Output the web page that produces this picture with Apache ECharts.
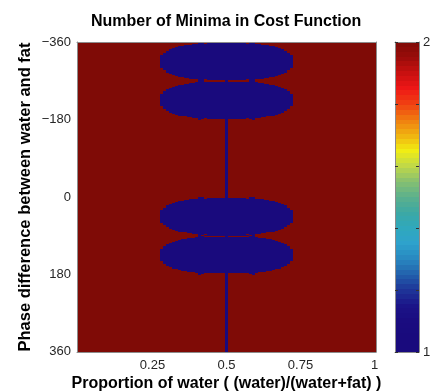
<!DOCTYPE html>
<html>
<head>
<meta charset="utf-8">
<script src="https://cdn.jsdelivr.net/npm/echarts@6/dist/echarts.min.js"></script>
<style>
html,body{margin:0;padding:0;background:#fff;}
#chart{width:430px;height:392px;}
</style>
</head>
<body>
<div id="chart"></div>
<script>
// ---- data ----
const titleText = 'Number of Minima in Cost Function';
const xName = 'Proportion of water ( (water)/(water+fat) )';
const yName = 'Phase difference between water and fat';
const xTickLabels = ['0.25', '0.5', '0.75', '1'];
const yTickLabels = [-360, -180, 0, 180, 360];
const colorbarTicks = [1, 2];
// grid of the image: water proportion 0..1 (step 0.01), phase -360..360 (step 1)
const xStart = 0, xEnd = 1, xStep = 0.01;
const phaseStart = -360, phaseEnd = 360, phaseStep = 1;
// blobs (value 1): centres in phase, and half-height (deg) for each water column
const blobCenters = [-315, -225, 45, 135];
const blobColumnX = [0.28,0.29,0.30,0.31,0.32,0.33,0.34,0.35,0.36,0.37,0.38,0.39,0.40,0.41,0.42,0.43,0.44,0.45,0.46,0.47,0.48,0.49,0.50,
                     0.51,0.52,0.53,0.54,0.55,0.56,0.57,0.58,0.59,0.60,0.61,0.62,0.63,0.64,0.65,0.66,0.67,0.68,0.69,0.70,0.71,0.72];
const blobHalfHeight = [14,20,25,28,31,33,35,36,37,38,39,40,41,45,44,41,42,42,42,42,42,42,42,
                        42,42,42,42,42,42,41,44,45,41,40,39,38,37,36,35,33,31,28,25,20,14];
// thin necks between touching blobs
const neckPhases = [-270, 90];
const neckXRange = [0.43, 0.57];
// single column of value 1 over the whole phase range
const lineColumnX = 0.5;
const valueInside = 1, valueOutside = 2;
const colorbarColors = ['#190a7d','#190a7d','#1a0c80','#1b1488','#1e3598','#2260ac','#2888c0','#2ea2cc','#30a8bc','#3ca8a4',
                        '#5cb08c','#88c070','#c0d848','#f2ee12','#f0b010','#f07c10','#f04012','#ee1616','#c81010','#9a0c0a','#7f0b06'];
const colorbarLevels = 64;

// ---- build the tables the library needs ----
const xCats = [];
for (let i = 0; i <= Math.round((xEnd - xStart) / xStep); i++) xCats.push(+(xStart + i * xStep).toFixed(2));
const yCats = [];
for (let j = 0; j <= Math.round((phaseEnd - phaseStart) / phaseStep); j++) yCats.push(phaseStart + j * phaseStep);

const profile = {};
blobColumnX.forEach((x, k) => { profile[x.toFixed(2)] = blobHalfHeight[k]; });

function cellValue(xv, p) {
  if (Math.abs(xv - lineColumnX) < 1e-9) return valueInside;
  if (neckPhases.indexOf(p) >= 0 && xv >= neckXRange[0] - 1e-9 && xv <= neckXRange[1] + 1e-9) return valueInside;
  const h = profile[xv.toFixed(2)];
  if (h !== undefined) {
    for (const c of blobCenters) {
      const d = Math.min(Math.abs(p - c), Math.abs(p - 720 - c), Math.abs(p + 720 - c));
      if (d <= h) return valueInside;
    }
  }
  return valueOutside;
}

// runs of equal value in each column: [columnIndex, firstRow, lastRow, value]
const cells = [];
xCats.forEach((xv, i) => {
  let start = 0, cur = cellValue(xv, yCats[0]);
  for (let j = 1; j <= yCats.length; j++) {
    const v = j < yCats.length ? cellValue(xv, yCats[j]) : null;
    if (v !== cur) { cells.push([i, start, j - 1, cur]); start = j; cur = v; }
  }
});

const bands = [];
for (let k = 0; k < colorbarLevels; k++) {
  const a = 1 + k / colorbarLevels, b = 1 + (k + 1) / colorbarLevels;
  bands.push([0, a, b, (a + b) / 2]);
}

const FONT = '"Liberation Sans", Arial, Helvetica, sans-serif';
const xTickSet = new Set(xTickLabels);
const yTickSet = new Set(yTickLabels.map(String));
const xShow = (idx, val) => xTickSet.has(String(+val));
const yShow = (idx, val) => yTickSet.has(String(val));
const fmtMinus = v => String(v).replace('-', '\u2212');

const chart = echarts.init(document.getElementById('chart'), null, {renderer: 'canvas'});
chart.setOption({
  animation: false,
  backgroundColor: '#fff',
  title: {
    text: titleText, left: 91, top: 14, padding: 0,
    textStyle: {fontFamily: FONT, fontSize: 16, fontWeight: 'bold', color: '#000'}
  },
  grid: [
    {left: 77, top: 42, width: 299, height: 310, containLabel: false, outerBoundsMode: 'none'},
    {left: 395, top: 42, width: 24, height: 310, containLabel: false, outerBoundsMode: 'none'}
  ],
  xAxis: [
    {
      type: 'category', gridIndex: 0, data: xCats, position: 'bottom',
      name: xName, nameLocation: 'middle', nameGap: 24, nameMoveOverlap: false,
      nameTextStyle: {fontFamily: FONT, fontSize: 16, fontWeight: 'bold', color: '#000'},
      axisLine: {lineStyle: {color: '#8c8c8c', width: 1}},
      axisTick: {inside: true, length: 4, alignWithLabel: true, interval: xShow, lineStyle: {color: '#333'}},
      axisLabel: {interval: xShow, formatter: v => String(+v), margin: 7, fontFamily: FONT, fontSize: 13, color: '#262626'},
      splitLine: {show: false}, z: 10
    },
    {
      type: 'category', gridIndex: 0, data: xCats, position: 'top',
      axisLine: {lineStyle: {color: '#8c8c8c', width: 1}},
      axisTick: {inside: true, length: 4, alignWithLabel: true, interval: xShow, lineStyle: {color: '#333'}},
      axisLabel: {show: false}, splitLine: {show: false}, z: 10
    },
    {type: 'value', gridIndex: 1, min: 0, max: 1, position: 'bottom', axisLine: {show: true, onZero: false, lineStyle: {color: '#8c8c8c'}},
     axisTick: {show: false}, axisLabel: {show: false}, splitLine: {show: false}, z: 10},
    {type: 'value', gridIndex: 1, min: 0, max: 1, position: 'top', axisLine: {show: true, onZero: false, lineStyle: {color: '#8c8c8c'}},
     axisTick: {show: false}, axisLabel: {show: false}, splitLine: {show: false}, z: 10}
  ],
  yAxis: [
    {
      type: 'category', gridIndex: 0, data: yCats, inverse: true, position: 'left',
      name: yName, nameLocation: 'middle', nameGap: 43, nameRotate: 90, nameMoveOverlap: false,
      nameTextStyle: {fontFamily: FONT, fontSize: 16.5, fontWeight: 'bold', color: '#000'},
      axisLine: {lineStyle: {color: '#8c8c8c', width: 1}},
      axisTick: {inside: true, length: 4, alignWithLabel: true, interval: yShow, lineStyle: {color: '#333'}},
      axisLabel: {interval: yShow, formatter: fmtMinus, margin: 6, verticalAlign: 'middle',
                  fontFamily: FONT, fontSize: 13, color: '#262626'},
      splitLine: {show: false}, z: 10
    },
    {
      type: 'category', gridIndex: 0, data: yCats, inverse: true, position: 'right',
      axisLine: {lineStyle: {color: '#8c8c8c', width: 1}},
      axisTick: {inside: true, length: 4, alignWithLabel: true, interval: yShow, lineStyle: {color: '#333'}},
      axisLabel: {show: false}, splitLine: {show: false}, z: 10
    },
    {
      type: 'value', gridIndex: 1, min: 1, max: 2, interval: 0.2, position: 'right',
      axisLine: {show: true, onZero: false, lineStyle: {color: '#8c8c8c'}},
      axisTick: {show: true, inside: true, length: 3, lineStyle: {color: '#333'}},
      axisLabel: {formatter: v => (colorbarTicks.indexOf(+(+v).toFixed(2)) >= 0 ? String(+(+v).toFixed(2)) : ''), margin: 4,
                  verticalAlign: 'middle', fontFamily: FONT, fontSize: 13, color: '#262626'},
      splitLine: {show: false}, z: 10
    },
    {
      type: 'value', gridIndex: 1, min: 1, max: 2, interval: 0.2, position: 'left',
      axisLine: {show: true, onZero: false, lineStyle: {color: '#8c8c8c'}},
      axisTick: {show: true, inside: true, length: 3, lineStyle: {color: '#333'}},
      axisLabel: {show: false}, splitLine: {show: false}, z: 10
    }
  ],
  visualMap: {
    type: 'continuous', min: 1, max: 2, seriesIndex: [0, 1], dimension: 3, show: false,
    inRange: {color: colorbarColors}
  },
  series: [
    {
      type: 'custom', xAxisIndex: 0, yAxisIndex: 0, data: cells, z: 2,
      encode: {x: 0, y: [1, 2]},
      renderItem: function (params, api) {
        const a = api.coord([api.value(0), api.value(1)]);
        const b = api.coord([api.value(0), api.value(2)]);
        const sz = api.size([1, 1]);
        const x0 = Math.round(a[0] - sz[0] / 2), x1 = Math.round(a[0] + sz[0] / 2);
        const yTop = Math.min(a[1], b[1]) - sz[1] / 2, yBot = Math.max(a[1], b[1]) + sz[1] / 2;
        const y0 = Math.round(yTop), y1 = Math.round(yBot);
        return {type: 'rect', shape: {x: x0, y: y0, width: x1 - x0, height: Math.max(y1 - y0, 1)},
                style: {fill: api.visual('color')}};
      }
    },
    {
      type: 'custom', xAxisIndex: 2, yAxisIndex: 2, data: bands, z: 2,
      encode: {x: 0, y: [1, 2]},
      renderItem: function (params, api) {
        const a = api.coord([0, api.value(1)]);
        const b = api.coord([1, api.value(2)]);
        const y0 = Math.round(Math.min(a[1], b[1])), y1 = Math.round(Math.max(a[1], b[1]));
        return {type: 'rect', shape: {x: a[0], y: y0, width: b[0] - a[0], height: y1 - y0},
                style: {fill: api.visual('color')}};
      }
    }
  ]
});
</script>
</body>
</html>
